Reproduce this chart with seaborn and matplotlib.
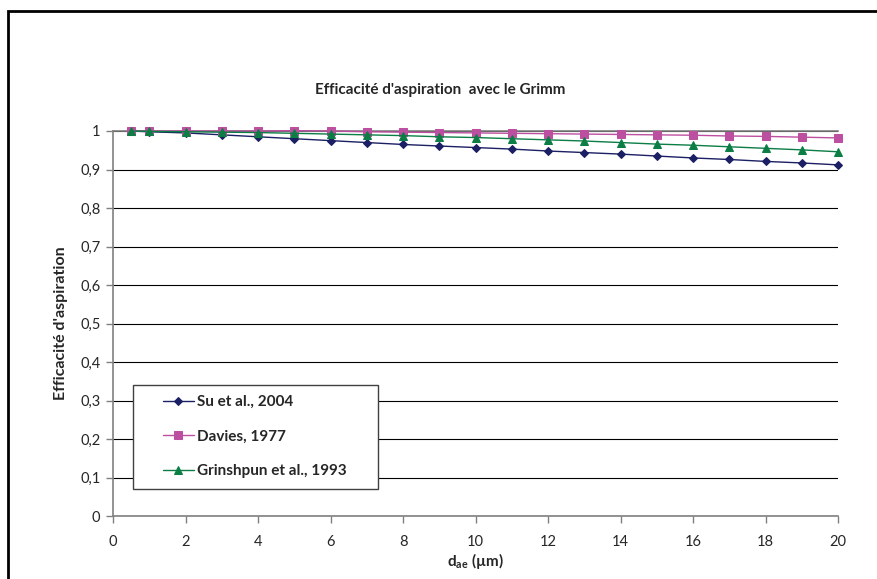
import pandas as pd
import numpy as np
import matplotlib
matplotlib.use('Agg')
import matplotlib.pyplot as plt
import matplotlib.patches as patches
from matplotlib.ticker import FuncFormatter
import seaborn as sns

d_ae = [0.5, 1, 2, 3, 4, 5, 6, 7, 8, 9, 10, 11, 12, 13, 14, 15, 16, 17, 18, 19, 20]
su_2004 = [1.0, 0.998, 0.995, 0.990, 0.985, 0.980, 0.975, 0.970, 0.965, 0.961, 0.957,
           0.953, 0.948, 0.944, 0.940, 0.935, 0.930, 0.926, 0.921, 0.917, 0.912]
davies_1977 = [1.0, 1.0, 1.0, 1.0, 1.0, 1.001, 1.0, 0.998, 0.997, 0.996, 0.995,
               0.994, 0.993, 0.992, 0.991, 0.990, 0.989, 0.987, 0.986, 0.984, 0.982]
grinshpun_1993 = [1.0, 0.999, 0.998, 0.997, 0.996, 0.994, 0.992, 0.990, 0.988, 0.985, 0.983,
                  0.980, 0.977, 0.974, 0.970, 0.966, 0.963, 0.959, 0.955, 0.951, 0.946]

series = ['Su et al., 2004', 'Davies, 1977', 'Grinshpun et al., 1993']
df = pd.DataFrame({
    'd_ae': d_ae * 3,
    'eff': su_2004 + davies_1977 + grinshpun_1993,
    'serie': np.repeat(series, len(d_ae)),
})

sns.set_theme(style='white')
plt.rcParams['font.family'] = ['Lato', 'DejaVu Sans']

fig = plt.figure(figsize=(8.77, 5.79), dpi=100)
ax = fig.add_axes([113/877, 1 - 516/579, (838-113)/877, (516-131)/579])

palette = {series[0]: '#1b1f63', series[1]: '#bd4fa0', series[2]: '#0b7d45'}
markers = {series[0]: 'D', series[1]: 's', series[2]: '^'}
sizes = {series[0]: 4, series[1]: 6, series[2]: 6}

for s in series:
    sub = df[df['serie'] == s]
    sns.lineplot(x='d_ae', y='eff', data=sub, ax=ax, color=palette[s], marker=markers[s],
                 markersize=sizes[s], markeredgecolor=palette[s], linewidth=1.0,
                 label=s, clip_on=False, zorder=3)

ax.set_xlim(0, 20)
ax.set_ylim(0, 1)
ax.set_xticks(range(0, 21, 2))
ax.set_yticks(np.arange(0, 1.01, 0.1))
ax.yaxis.set_major_formatter(FuncFormatter(lambda v, p: '0' if v == 0 else ('1' if abs(v - 1) < 1e-9 else f'{v:.1f}'.replace('.', ','))))
ax.grid(axis='y', color='black', linewidth=0.8)
ax.set_axisbelow(True)

ax.spines['right'].set_visible(False)
ax.spines['top'].set_color('#808080')
ax.spines['left'].set_color('#808080')
ax.spines['bottom'].set_color('#808080')
for sp in ax.spines.values():
    sp.set_linewidth(1.2)
ax.tick_params(axis='both', direction='out', length=5, width=1, color='#808080',
               labelsize=10.5, pad=4, bottom=True, left=True)
ax.tick_params(axis='x', pad=9)

ax.set_xlabel(r'd$_{\mathregular{ae}}$ (µm)', fontsize=11, fontweight='bold', labelpad=1)
ax.set_ylabel("Efficacité d'aspiration", fontsize=11.5, fontweight='bold', labelpad=9)
fig.text(440/877, 1 - 90/579, "Efficacité d'aspiration  avec le Grimm", ha='center', va='center',
         fontsize=11, fontweight='bold')

# legend box drawn separately, entries placed inside it
ax.add_patch(patches.Rectangle(((133-113)/725, (516-489)/385), (378-133)/725, (489-385)/385,
                               transform=ax.transAxes, facecolor='white', edgecolor='#404040',
                               linewidth=1.0, zorder=4, clip_on=False))
leg = ax.legend(loc='upper left', bbox_to_anchor=((163-113)/725, (516-395)/385),
                borderaxespad=0, borderpad=0, frameon=False,
                prop={'weight': 'bold', 'size': 11},
                labelspacing=1.35, handlelength=2.0, handletextpad=0.2)
leg.set_zorder(5)

fig.patches.append(patches.Rectangle((8/877, -0.2), 2, 0.2 + 1 - 11/579, transform=fig.transFigure,
                                     fill=False, edgecolor='black', linewidth=2))

fig.savefig('out.png', dpi=100)
